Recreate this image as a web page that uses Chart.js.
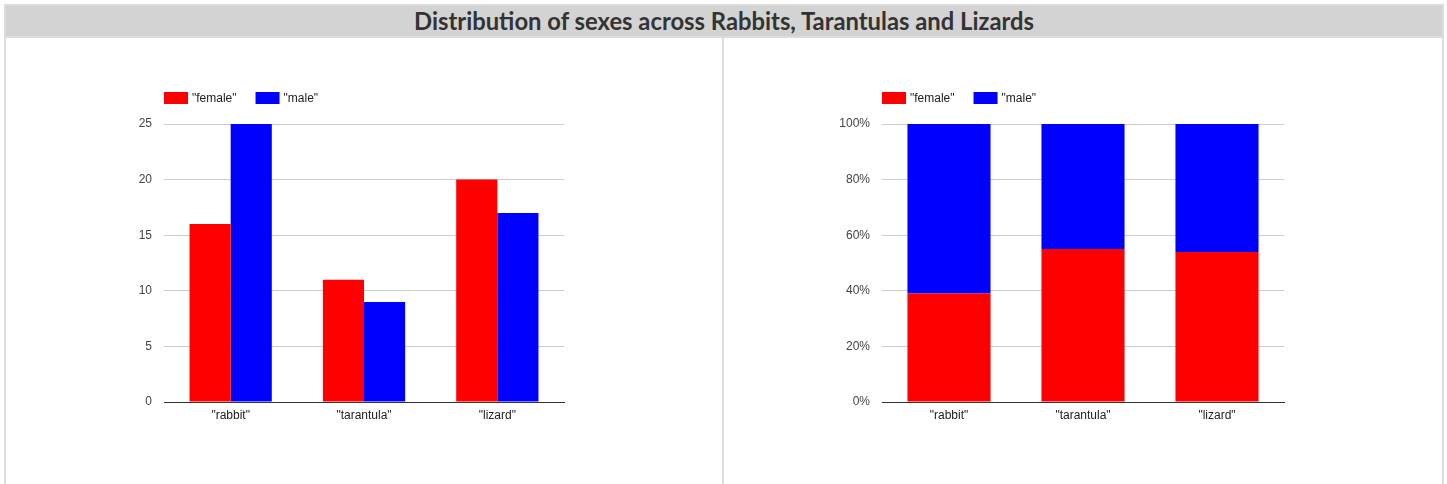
<!DOCTYPE html>
<html>
<head>
<meta charset="utf-8">
<script src="https://cdn.jsdelivr.net/npm/chart.js@4/dist/chart.umd.min.js"></script>
<style>
  body { margin: 0; background: #fff; width: 1447px; height: 484px; overflow: hidden; position: relative; }
  .frame { position: absolute; left: 4px; top: 4px; width: 1440px; height: 500px; border: 2px solid #dcdcdc; box-sizing: border-box; }
  .title { position: absolute; left: 6px; top: 6px; width: 1436px; height: 30px; background: #d3d3d3;
           font: bold 23.8px Lato, sans-serif; color: #333; text-align: center; line-height: 31px; }
  .hline { position: absolute; left: 4px; top: 36px; width: 1440px; height: 2px; background: #dcdcdc; }
  .vline { position: absolute; left: 722px; top: 38px; width: 2px; height: 460px; background: #dcdcdc; }
  canvas { position: absolute; }
</style>
</head>
<body>
<div class="frame"></div>
<div class="title">Distribution of sexes across Rabbits, Tarantulas and Lizards</div>
<div class="hline"></div>
<div class="vline"></div>
<canvas id="countChart" width="480" height="400" style="left:100px;top:50px"></canvas>
<canvas id="pctChart" width="480" height="400" style="left:820px;top:50px"></canvas>
<script>
// animals shown on both charts
const categories = ['"rabbit"', '"tarantula"', '"lizard"'];
const seriesNames = ['"female"', '"male"'];
const seriesColors = ["#ff0000", "#0000ff"];

// counts (left chart)
const femaleCounts = [16, 11, 20];
const maleCounts = [25, 9, 17];
const countTicks = [0, 5, 10, 15, 20, 25];

// share in percent (right chart, 100% stacked)
const femalePct = [39, 55, 54];
const malePct = [61, 45, 46];
const pctTicks = [0, 20, 40, 60, 80, 100];

const FONT = { family: "Arial, 'Liberation Sans', sans-serif", size: 12 };

// Legend drawn above the plot, aligned with chartArea.left
const topLegend = {
  id: "topLegend",
  afterDraw(chart) {
    const { ctx, chartArea } = chart;
    let x = chartArea.left;
    const y = chartArea.top - 32;
    ctx.save();
    ctx.font = `${FONT.size}px ${FONT.family}`;
    ctx.textBaseline = "middle";
    ctx.textAlign = "left";
    chart.data.datasets.forEach((ds) => {
      ctx.fillStyle = ds.backgroundColor;
      ctx.fillRect(x, y, 24, 12);
      ctx.fillStyle = "#222";
      ctx.fillText(ds.label, x + 28, y + 6.5);
      x += 28 + ctx.measureText(ds.label).width + 19;
    });
    ctx.restore();
  },
};

function fixedWidth(w) {
  return (scale) => { scale.width = w; };
}
function fixedHeight(h) {
  return (scale) => { scale.height = h; };
}

function makeChart(id, datasets, opts) {
  return new Chart(document.getElementById(id), {
    type: "bar",
    data: { labels: categories, datasets },
    options: {
      responsive: false,
      animation: false,
      layout: { padding: { top: 74, right: 16, left: 0, bottom: 0 } },
      plugins: { legend: { display: false }, tooltip: { enabled: false } },
      scales: {
        x: {
          stacked: opts.stacked,
          grid: { display: false, drawTicks: false },
          border: { color: "#333", width: 1 },
          ticks: { color: "#222", font: FONT, padding: 6 },
          afterFit: fixedHeight(48),
        },
        y: {
          stacked: opts.stacked,
          min: opts.ticks[0],
          max: opts.ticks[opts.ticks.length - 1],
          afterBuildTicks: (scale) => {
            scale.ticks = opts.ticks.map((v) => ({ value: v }));
          },
          grid: { color: "#cccccc", drawTicks: false },
          border: { display: false },
          ticks: { color: "#444", font: FONT, padding: opts.tickPad, callback: opts.fmt },
          afterFit: fixedWidth(opts.axisWidth),
        },
      },
    },
    plugins: [topLegend],
  });
}

makeChart(
  "countChart",
  [
    { label: seriesNames[0], data: femaleCounts, backgroundColor: seriesColors[0], categoryPercentage: 0.617, barPercentage: 1 },
    { label: seriesNames[1], data: maleCounts, backgroundColor: seriesColors[1], categoryPercentage: 0.617, barPercentage: 1 },
  ],
  { stacked: false, ticks: countTicks, tickPad: 12, axisWidth: 64, fmt: (v) => v }
);

makeChart(
  "pctChart",
  [
    { label: seriesNames[0], data: femalePct, backgroundColor: seriesColors[0], categoryPercentage: 0.62, barPercentage: 1 },
    { label: seriesNames[1], data: malePct, backgroundColor: seriesColors[1], categoryPercentage: 0.62, barPercentage: 1 },
  ],
  { stacked: true, ticks: pctTicks, tickPad: 12, axisWidth: 62, fmt: (v) => v + "%" }
);
</script>
</body>
</html>
